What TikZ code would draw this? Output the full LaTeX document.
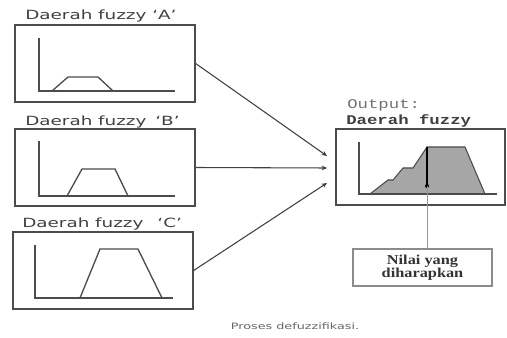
\documentclass[tikz,border=0pt]{standalone}
\usepackage{fontspec}
\usetikzlibrary{arrows.meta}
\newfontfamily\regionfont{DejaVu Sans}[FakeStretch=1.45]
\newfontfamily\outfont{Liberation Mono}[FakeStretch=1.3]
\newfontfamily\notefont{Liberation Serif}[FakeStretch=1.2]

\begin{document}
\begin{tikzpicture}[x=0.75pt, y=-0.75pt,
  region/.style={draw=linegray, line width=1pt, minimum width=135pt, minimum height=57.75pt, inner sep=0pt},
  regionlabel/.style={anchor=base west, inner sep=0pt, text=textgray, font=\regionfont\fontsize{9.5}{11}\selectfont},
  outlabel/.style={anchor=base west, inner sep=0pt, text=textgray, font=\outfont\fontsize{10}{12}\selectfont},
  axis/.style={draw=linegray, line width=1pt},
  feed/.style={-{Stealth[length=4pt, width=3.5pt]}, draw=black!75, line width=0.8pt}]
  % Define colors
  \colorlet{linegray}{black!70}
  \colorlet{textgray}{black!75}
  \colorlet{areagray}{black!35}
  \colorlet{notegray}{black!45}

  \useasboundingbox (0,0) rectangle (507,338);

  % Input regions
  \node[region] (boxA) at (105,63.5) {};
  \node[region] (boxB) at (105,167.5) {};
  \node[region] (boxC) at (103,270.5) {};
  \node[regionlabel] (labA) at (25,20) {Daerah fuzzy ‘A’};
  \node[regionlabel] (labB) at (25,126) {Daerah fuzzy\hspace{0.7em}‘B’};
  \node[regionlabel] (labC) at (22,228) {Daerah fuzzy\hspace{1.1em}‘C’};

  % Membership functions of the inputs
  \draw[axis] (39,38) -- (39,91) -- (175,91);
  \draw[axis] (52,91) -- (68,77) -- (98,77) -- (113,91);
  \draw[axis] (39,141) -- (39,196) -- (175,196);
  \draw[axis] (67,196) -- (82,169) -- (115,169) -- (128,196);
  \draw[axis] (35,245) -- (35,298) -- (173,298);
  \draw[axis] (80,298) -- (100,249) -- (138,249) -- (162,298);

  % Output region
  \node[region, minimum width=126.75pt, minimum height=57pt] (outbox) at (420.5,167) {};
  \node[outlabel, text=black!55] (outlab) at (347,109) {Output:};
  \node[outlabel, font=\outfont\bfseries\fontsize{10}{12}\selectfont] (outname) at (346,125) {Daerah fuzzy};

  % Aggregated area
  \filldraw[fill=areagray, draw=linegray, line width=0.8pt] (370,194) -- (388,180) -- (393,180) -- (403,168)
    -- (413,168) -- (427,147) -- (465,147) -- (485,194) -- cycle;
  \draw[axis] (359,142) -- (359,194) -- (497,194);
  \coordinate (peak) at (427,147);
  \coordinate (crisp) at (427,186);
  \draw[black, line width=1.2pt] (peak) -- (crisp);
  \fill[black] (crisp) circle (2);

  % Crisp value
  \node[draw=notegray, line width=1.5pt, minimum width=104pt, minimum height=27.75pt, align=center,
    inner sep=1pt, text=black!80, font=\notefont\bfseries\fontsize{10.2}{9.5}\selectfont]
    (res) at (422.5,267.5) {Nilai yang\\diharapkan};
  \draw[linegray!60, line width=0.6pt] (crisp) -- (crisp |- res.north);

  % Arrows into the output
  \coordinate (inA) at (327,156);
  \coordinate (inB) at (327,168);
  \coordinate (inC) at (327,183);
  \draw[feed] (boxA.east) -- (inA);
  \draw[feed] (boxB.east) -- (inB);
  \draw[feed] (boxC.east) -- (inC);

  % Caption
  \node[font=\regionfont\fontsize{6.6}{8}\selectfont, text=textgray!80] (cap) at (295,326) {Proses defuzzifikasi.};
\end{tikzpicture}
\end{document}
